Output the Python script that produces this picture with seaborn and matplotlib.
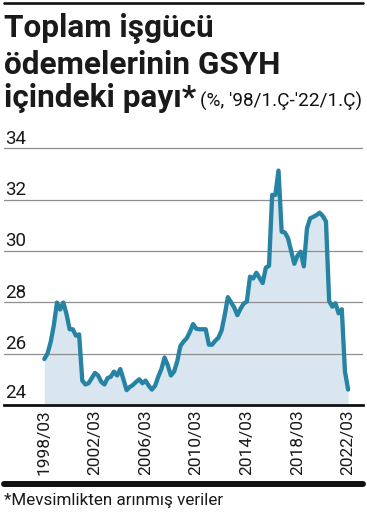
import numpy as np
import pandas as pd
import matplotlib
matplotlib.use("Agg")
import matplotlib.pyplot as plt
import matplotlib.transforms as mtransforms
from matplotlib.lines import Line2D
import seaborn as sns

# ---------------- data ----------------
quarters = list(range(97))  # 1998 Q1 ... 2022 Q1
share = [
    25.79, 26.00, 26.45, 27.10, 27.99, 27.72, 27.99, 27.55, 26.95, 26.95,
    26.70, 26.75, 24.95, 24.80, 24.85, 25.05, 25.25, 25.15, 24.90, 24.80,
    25.05, 25.10, 25.30, 25.15, 25.40, 25.00, 24.58, 24.70, 24.78, 24.90,
    25.00, 24.85, 24.95, 24.75, 24.60, 24.75, 25.10, 25.40, 25.85, 25.55,
    25.15, 25.30, 25.70, 26.30, 26.47, 26.60, 26.85, 27.15, 26.97, 26.95,
    26.95, 26.95, 26.35, 26.35, 26.50, 26.62, 26.90, 27.50, 28.20, 28.00,
    27.80, 27.50, 27.75, 27.95, 28.03, 29.00, 28.93, 29.15, 28.95, 28.75,
    29.35, 29.42, 32.18, 32.18, 33.13, 30.75, 30.72, 30.50, 30.00, 29.50,
    29.82, 29.97, 29.40, 30.88, 31.27, 31.33, 31.40, 31.49, 31.36, 31.15,
    28.05, 27.83, 27.96, 27.57, 27.73, 25.30, 24.60,
]
x_tick_positions = [0, 16, 32, 48, 64, 80, 96]
x_tick_labels = ["1998/03", "2002/03", "2006/03", "2010/03", "2014/03", "2018/03", "2022/03"]
y_ticks = [24, 26, 28, 30, 32, 34]

title_lines = ["Toplam işgücü", "ödemelerinin GSYH", "içindeki payı*"]
subtitle = "(%, '98/1.Ç-'22/1.Ç)"
footnote = "*Mevsimlikten arınmış veriler"

# ---------------- style ----------------
sns.set_theme(style="white")
plt.rcParams['font.family'] = ['Roboto', 'DejaVu Sans']

LINE_C = "#2683a4"
FILL_C = "#d9e6f0"
GRID_C = "#8e8e8e"
TEXT_C = "#1a1a1a"

W, H = 367, 518
fig = plt.figure(figsize=(W / 100, H / 100), dpi=100)
fig.patch.set_facecolor("white")

ax_bot_px, ax_top_px = 405, 145.7
ax = fig.add_axes([4 / W, (H - ax_bot_px) / H, 359 / W, (ax_bot_px - ax_top_px) / H])

df = pd.DataFrame({"quarter": quarters, "share": share})
ax.fill_between(df["quarter"], 24, df["share"], color=FILL_C, lw=0, zorder=1)
for yv in y_ticks[1:]:
    ax.axhline(yv, color=GRID_C, lw=0.9, zorder=2)
sns.lineplot(data=df, x="quarter", y="share", ax=ax, color=LINE_C, lw=3.1,
             zorder=3, solid_joinstyle="round", solid_capstyle="round")

ax.set_xlim(-12.74, 100.7)
ax.set_ylim(24, 34.1)
for s in ["top", "right", "left"]:
    ax.spines[s].set_visible(False)
ax.spines["bottom"].set_color("#111111")
ax.spines["bottom"].set_linewidth(2.0)
ax.spines["bottom"].set_zorder(4)
ax.set_xlabel("")
ax.set_ylabel("")
ax.set_yticks([])
ax.set_xticks(x_tick_positions)
ax.set_xticklabels(x_tick_labels, rotation=90, fontsize=12.5, color=TEXT_C, va="top", ha="center")
ax.tick_params(axis="x", length=0, pad=3)

# y labels above the grid lines
blend = mtransforms.blended_transform_factory(ax.transAxes, ax.transData)
for yv in y_ticks:
    off = 7 if yv == 24 else 4.5
    tr = mtransforms.offset_copy(blend, fig=fig, x=0, y=off, units="dots")
    ax.text(0.004, yv, str(yv), transform=tr, fontsize=13.5, color=TEXT_C,
            ha="left", va="baseline")

# top and bottom rules
fig.add_artist(Line2D([4 / W, 363 / W], [1 - 2.8 / H, 1 - 2.8 / H], color="#111111", lw=1.9))
fig.add_artist(Line2D([4 / W, 363 / W], [1 - 483.7 / H, 1 - 483.7 / H], color="#111111", lw=4.3))

# ---------------- titles ----------------
fig.canvas.draw()
r = fig.canvas.get_renderer()

def fit(t, target):
    w = t.get_window_extent(renderer=r).width
    t.set_fontsize(t.get_fontsize() * target / w)

baselines = [37, 74, 107]
t_objs = []
for line, b in zip(title_lines, baselines):
    t = fig.text(4 / W, 1 - b / H, line, fontsize=20, fontweight="bold",
                 color=TEXT_C, ha="left", va="baseline")
    t_objs.append(t)
fit(t_objs[1], 276)
for t in t_objs:
    t.set_fontsize(t_objs[1].get_fontsize())
fig.canvas.draw()
end3 = t_objs[2].get_window_extent(renderer=r).x1
sub = fig.text((end3 + 4) / W, 1 - 107 / H, subtitle, fontsize=14, fontweight="normal",
               color="#111111", ha="left", va="baseline")
fit(sub, 363 - end3 - 4)

fn = fig.text(4 / W, 1 - 505 / H, footnote, fontsize=12, color=TEXT_C, ha="left", va="baseline")
fit(fn, 218)

fig.savefig("out.png", dpi=100, facecolor="white")
